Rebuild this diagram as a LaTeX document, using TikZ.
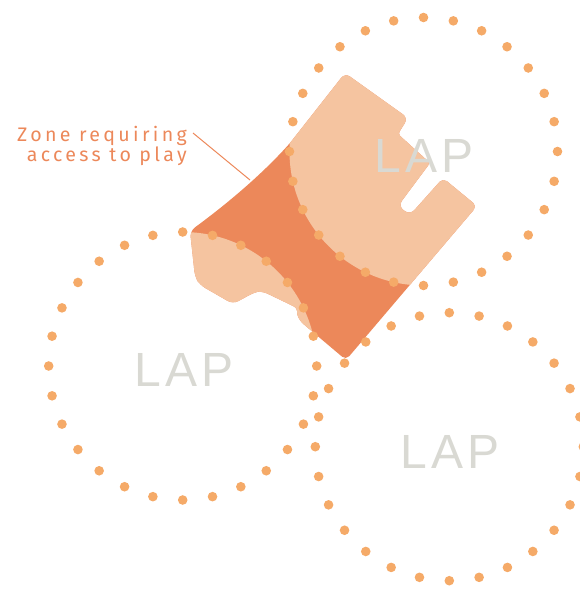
\documentclass[tikz,border=0pt]{standalone}
\usepackage{fontspec}
\setmainfont{Liberation Sans}
\newfontfamily\labelfont[LetterSpace=17]{Fira Sans}
\newfontfamily\lapfont[LetterSpace=8]{Liberation Sans}
\definecolor{peach}{RGB}{245,196,160}
\definecolor{zone}{RGB}{236,136,90}
\definecolor{dotc}{RGB}{245,170,104}
\definecolor{lapgray}{RGB}{217,217,211}
\newcommand\plotshape{(190,231) .. controls (235,198) and (268,168) .. (290,143)
  [rounded corners=6] -- (345,73) -- (408,118) [rounded corners=3] -- (398,134) -- (430,163)
  [rounded corners=6.5] -- (398,206) -- (410,215) [rounded corners=5] -- (443,178) -- (477,206)
  -- (346,360) [rounded corners=3] -- (301,322) -- (297,315) -- (297,308) -- (291,305)
  [rounded corners=6] -- (262,291) -- (255,292) -- (233,304) -- (200,285) -- (195,277) -- cycle}
\tikzset{
  lapstyle/.style={text=lapgray, font=\lapfont\fontsize{48}{48}\selectfont, inner sep=0pt},
  dotstyle/.style={fill=dotc},
  lblstyle/.style={text=zone, align=right, font=\labelfont\fontsize{19.6}{19.5}\selectfont, inner sep=0pt},
  leader/.style={draw=zone, line width=1pt}
}
\begin{document}
\begin{tikzpicture}[x=1pt,y=-1pt]
\useasboundingbox (0,0) rectangle (579,589);
\coordinate (c1) at (423.5,151.5);
\coordinate (c2) at (182.7,366);
\coordinate (c3) at (449.3,446.7);
% parcel
\fill[zone] \plotshape;
\begin{scope}
  \clip \plotshape;
  \fill[peach] (c1) circle (134pt);
  \fill[peach] (c2) circle (134pt);
  \fill[peach] (c3) circle (134pt);
\end{scope}
% LAP labels
\node[lapstyle, anchor=base] (lap1) at (424,172) {LAP};
\node[lapstyle, anchor=base] (lap2) at (184,386) {LAP};
\node[lapstyle, anchor=base] (lap3) at (450,468) {LAP};
% dotted circles
\foreach \c in {c1,c2,c3}{
  \foreach \a in {0,...,27}{
    \fill[dotstyle] (\c) ++(\a*360/28:134pt) circle (4.8pt);
  }
}
% label
\node[lblstyle, anchor=north east] (label) at (187,126.5) {Zone requiring\\access to play};
\coordinate (lstart) at (193,133);
\coordinate (lend) at (250,180);
\draw[leader] (lstart) -- (lend);
\end{tikzpicture}
\end{document}
